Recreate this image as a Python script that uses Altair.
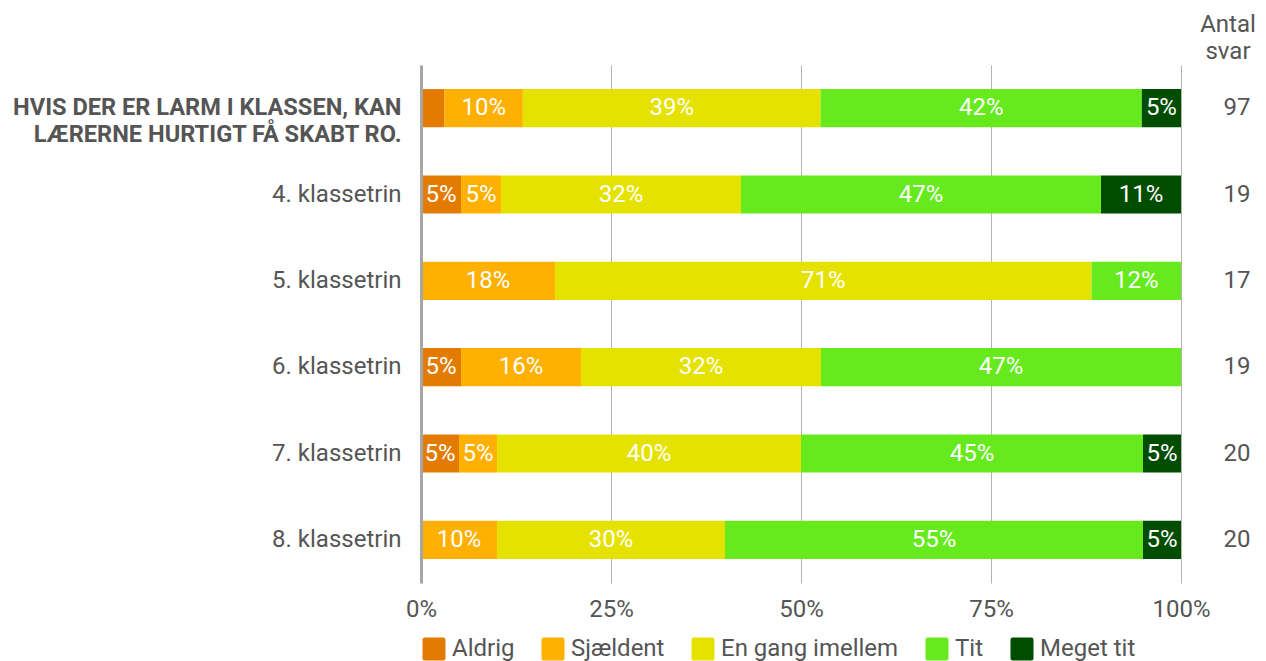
import altair as alt
import pandas as pd

groups = [
    "HVIS DER ER LARM I KLASSEN, KAN|LÆRERNE HURTIGT FÅ SKABT RO.",
    "4. klassetrin",
    "5. klassetrin",
    "6. klassetrin",
    "7. klassetrin",
    "8. klassetrin",
]
categories = ["Aldrig", "Sjældent", "En gang imellem", "Tit", "Meget tit"]
colors = ["#E37B00", "#FFB000", "#E6E200", "#66EA1E", "#004D00"]

aldrig = [3, 1, 0, 1, 1, 0]
sjaeldent = [10, 1, 3, 3, 1, 2]
en_gang = [38, 6, 12, 6, 8, 6]
tit = [41, 9, 2, 9, 9, 11]
meget_tit = [5, 2, 0, 0, 1, 1]
totals = [97, 19, 17, 19, 20, 20]

series = [aldrig, sjaeldent, en_gang, tit, meget_tit]

rows = []
for gi, g in enumerate(groups):
    start = 0.0
    for ci, c in enumerate(categories):
        n = series[ci][gi]
        p = n / totals[gi]
        if n > 0:
            rows.append({
                "group": g, "cat": c, "order": ci,
                "start": start, "end": start + p, "mid": start + p / 2,
                "label": f"{round(p * 100):.0f}%" if p > 0.04 else "",
            })
        start += p
df = pd.DataFrame(rows)
df_tot = pd.DataFrame({"group": groups, "total": [str(t) for t in totals]})
df_head = pd.DataFrame({"t": ["Antal\nsvar"]})

yscale = alt.Scale(domain=groups, paddingInner=0.558, paddingOuter=0.279)

base = alt.Chart(df)

bars = base.mark_bar(cornerRadius=0).encode(
    x=alt.X(
        "start:Q",
        scale=alt.Scale(domain=[0, 1], nice=False),
        axis=alt.Axis(
            values=[0, 0.25, 0.5, 0.75, 1], format=".0%", title=None,
            domain=False, ticks=False, grid=True, gridColor="#b3b3b3", gridWidth=1,
            labelFontSize=24, labelColor="#555555", labelPadding=14, labelFlush=False,
        ),
    ),
    x2="end:Q",
    y=alt.Y(
        "group:N", scale=yscale, sort=groups,
        axis=alt.Axis(
            title=None, ticks=False, grid=False, domain=True,
            domainColor="#a6a6a6", domainWidth=3, zindex=1,
            labelColor="#555555", labelPadding=20,
            labelLimit=600, labelLineHeight=27,
            labelExpr="split(datum.label, '|')",
            labelFontWeight={"condition": {"test": "indexof(datum.value, '|') >= 0", "value": "bold"}, "value": "normal"},
            labelFontSize={"condition": {"test": "indexof(datum.value, '|') >= 0", "value": 23.6}, "value": 24},
        ),
    ),
    color=alt.Color(
        "cat:N",
        scale=alt.Scale(domain=categories, range=colors),
        legend=alt.Legend(
            title=None, orient="none", direction="horizontal",
            legendX=1, legendY=572,
            symbolType="M-0.8,-1H0.8Q1,-1 1,-0.8V0.8Q1,1 0.8,1H-0.8Q-1,1 -1,0.8V-0.8Q-1,-1 -0.8,-1Z",
            symbolSize=529, symbolStrokeWidth=0, symbolOpacity=1,
            labelFontSize=24, labelColor="#555555", labelOffset=6, labelLimit=400,
            columnPadding=26, padding=0,
        ),
    ),
    order=alt.Order("order:Q"),
)

texts = base.mark_text(color="white", fontSize=24, baseline="middle", align="center").encode(
    x=alt.X("mid:Q"),
    y=alt.Y("group:N", sort=groups),
    text="label:N",
)

tot = alt.Chart(df_tot).mark_text(fontSize=24, color="#555555", baseline="middle", align="center").encode(
    x=alt.value(816),
    y=alt.Y("group:N", sort=groups),
    text="total:N",
)

head = alt.Chart(df_head).mark_text(
    fontSize=24, color="#555555", baseline="alphabetic", align="center", lineBreak="\n", lineHeight=27
).encode(
    x=alt.value(807),
    y=alt.value(-33),
    text="t:N",
)

chart = alt.layer(bars, texts, tot, head).properties(
    width=760, height=518,
    autosize=alt.AutoSizeParams(type="none"),
    padding={"left": 413, "top": 57, "right": 77, "bottom": 79},
).configure(font="Roboto").configure_view(stroke=None)

chart.save("out.html", embed_options={"renderer": "svg", "actions": False})
